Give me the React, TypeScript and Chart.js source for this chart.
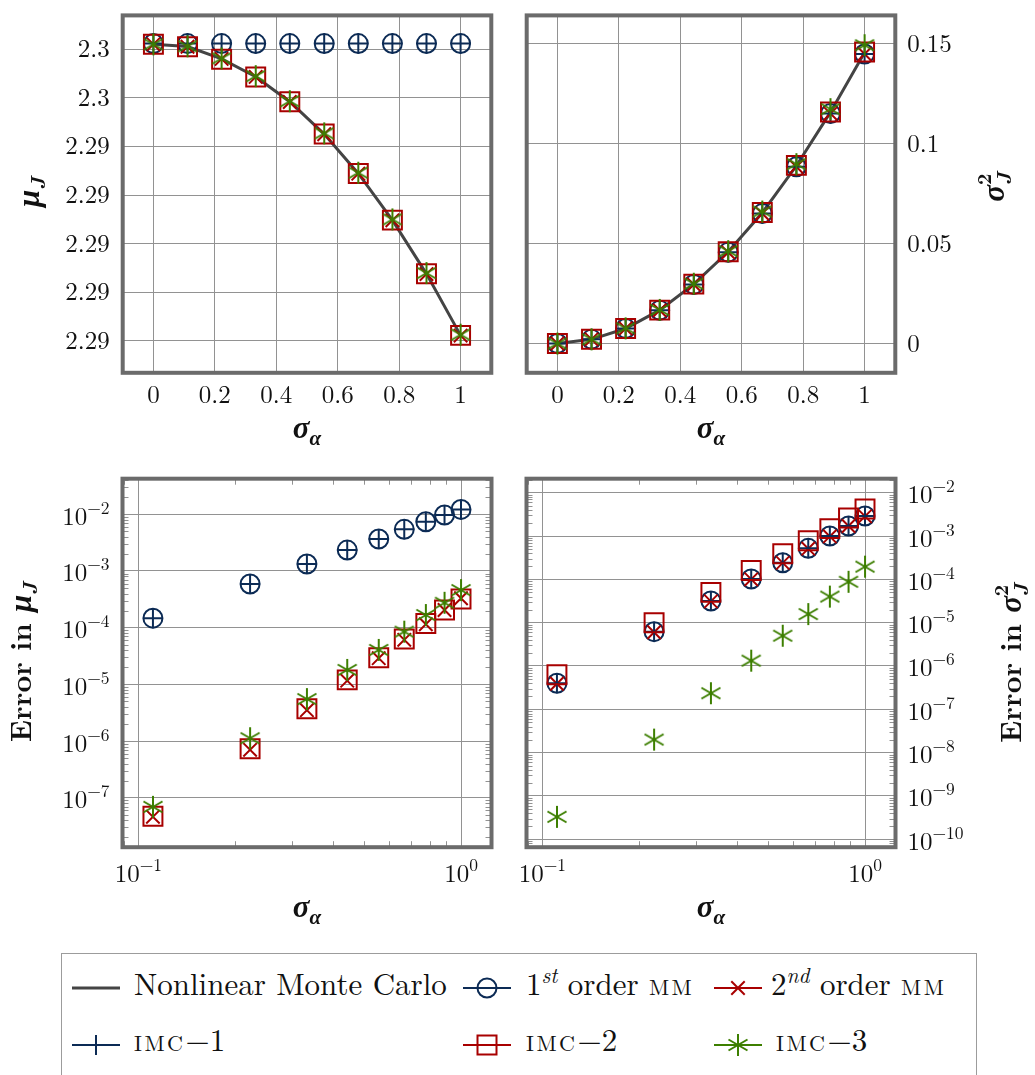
import React, { useEffect, useLayoutEffect, useRef, useState } from "react";
import { Chart, registerables } from "chart.js";

Chart.register(...registerables);

// ---------------- data ----------------
const sigmaAlpha = [0, 0.111, 0.222, 0.333, 0.444, 0.556, 0.667, 0.778, 0.889, 1];
const sigmaAlphaErr = [0.111, 0.222, 0.333, 0.444, 0.556, 0.667, 0.778, 0.889, 1];

const muNonlinearMC = [2.29564, 2.295622, 2.29552, 2.295374, 2.295168, 2.294902, 2.294578, 2.294194, 2.293752, 2.293246];
const muMM1 = [2.295646, 2.295646, 2.295646, 2.295646, 2.295646, 2.295646, 2.295646, 2.295646, 2.295646, 2.295646];
const muMM2 = [2.29564, 2.29562, 2.29552, 2.295372, 2.295166, 2.2949, 2.294576, 2.294192, 2.29375, 2.293244];
const muIMC1 = [2.295646, 2.295646, 2.295646, 2.295646, 2.295646, 2.295646, 2.295646, 2.295646, 2.295646, 2.295646];
const muIMC2 = [2.29564, 2.29562, 2.295518, 2.295372, 2.295168, 2.294902, 2.294578, 2.294194, 2.293752, 2.293246];
const muIMC3 = [2.29564, 2.295624, 2.295524, 2.295378, 2.295172, 2.294908, 2.294584, 2.2942, 2.293758, 2.293252];

const varNonlinearMC = [0, 0.0021, 0.0075, 0.0167, 0.0297, 0.0459, 0.0654, 0.0889, 0.1157, 0.1456];
const varMM1 = [0, 0.0021, 0.0075, 0.0166, 0.0295, 0.0456, 0.065, 0.0884, 0.115, 0.1448];
const varMM2 = [0, 0.0021, 0.0075, 0.0166, 0.0295, 0.0456, 0.065, 0.0884, 0.115, 0.1448];
const varIMC1 = [0, 0.0021, 0.0075, 0.0166, 0.0295, 0.0456, 0.065, 0.0884, 0.115, 0.1448];
const varIMC2 = [0, 0.0021, 0.0075, 0.0167, 0.0297, 0.0459, 0.0655, 0.0891, 0.1158, 0.1458];
const varIMC3 = [0, 0.0021, 0.0076, 0.0168, 0.0299, 0.0462, 0.066, 0.0897, 0.1172, 0.1492];

const errMuMM1 = [1.47e-4, 5.9e-4, 1.33e-3, 2.34e-3, 3.66e-3, 5.43e-3, 7.4e-3, 9.7e-3, 1.22e-2];
const errMuMM2 = [4.6e-8, 7.0e-7, 3.5e-6, 1.16e-5, 2.9e-5, 6.1e-5, 1.15e-4, 2.05e-4, 3.3e-4];
const errMuIMC1 = [1.47e-4, 5.9e-4, 1.33e-3, 2.34e-3, 3.66e-3, 5.43e-3, 7.4e-3, 9.7e-3, 1.22e-2];
const errMuIMC2 = [4.7e-8, 7.3e-7, 3.7e-6, 1.2e-5, 2.95e-5, 6.3e-5, 1.18e-4, 2.05e-4, 3.2e-4];
const errMuIMC3 = [6.9e-8, 1.12e-6, 5.5e-6, 1.8e-5, 4.05e-5, 8.5e-5, 1.67e-4, 2.75e-4, 4.6e-4];

const errVarMM1 = [4.0e-7, 6.2e-6, 3.16e-5, 1.02e-4, 2.42e-4, 5.2e-4, 1.0e-3, 1.7e-3, 2.9e-3];
const errVarMM2 = [3.9e-7, 6.0e-6, 3.1e-5, 1.0e-4, 2.4e-4, 5.1e-4, 9.8e-4, 1.7e-3, 2.85e-3];
const errVarIMC1 = [4.0e-7, 6.2e-6, 3.16e-5, 1.02e-4, 2.42e-4, 5.2e-4, 1.0e-3, 1.7e-3, 2.9e-3];
const errVarIMC2 = [6.3e-7, 1.0e-5, 5.0e-5, 1.6e-4, 3.9e-4, 7.8e-4, 1.48e-3, 2.6e-3, 4.2e-3];
const errVarIMC3 = [3.3e-10, 2.0e-8, 2.35e-7, 1.33e-6, 5.0e-6, 1.58e-5, 4.0e-5, 8.8e-5, 1.96e-4];

// ticks
const linXTickValues = [0, 0.2, 0.4, 0.6, 0.8, 1];
const linXTickLabels = ["0", "0.2", "0.4", "0.6", "0.8", "1"];
const muTickValues = [2.2956, 2.2952, 2.2948, 2.2944, 2.294, 2.2936, 2.2932];
const muTickLabels = ["2.3", "2.3", "2.29", "2.29", "2.29", "2.29", "2.29"];
const varTickValues = [0, 0.05, 0.1, 0.15];
const varTickLabels = ["0", "0.05", "0.1", "0.15"];
const logXTickExps = [-1, 0];
const errMuTickExps = [-7, -6, -5, -4, -3, -2];
const errVarTickExps = [-10, -9, -8, -7, -6, -5, -4, -3, -2];

// ---------------- styles ----------------
const W = 1035;
const H = 945;
const LM = '"Latin Modern Roman", "Liberation Serif", serif';
const GREEKF = '"Liberation Serif", serif';
const NAVY = "#0c2b55";
const RED = "#a80000";
const GREEN = "#3d7f00";
const DARK = "#444444";
const GRID = "#929292";
const FRAME = "#6b6b6b";

type Run = { t: string; font: string; dy?: number; adv?: number };

const tickFont = `25px ${LM}`;
const supFont = `17.5px ${LM}`;
const greek = (s: number) => `italic bold ${s}px ${GREEKF}`;
const lmbi = (s: number) => `italic bold ${s}px ${LM}`;
const lmb = (s: number) => `bold ${s}px ${LM}`;

const sigmaAlphaTitle: Run[] = [
  { t: "σ", font: greek(31) },
  { t: "α", font: greek(21), dy: 7 },
];
const muTitle: Run[] = [
  { t: "μ", font: greek(31) },
  { t: "J", font: lmbi(21), dy: 6 },
];
const varTitle: Run[] = [
  { t: "σ", font: greek(31) },
  { t: "2", font: lmb(20), dy: -13, adv: 0 },
  { t: "J", font: lmbi(21), dy: 7 },
];
const errMuTitle: Run[] = [{ t: "Error in ", font: lmb(29) }, ...muTitle];
const errVarTitle: Run[] = [{ t: "Error in ", font: lmb(29) }, ...varTitle];

function runsWidth(ctx: CanvasRenderingContext2D, runs: Run[]) {
  let w = 0;
  for (const r of runs) {
    ctx.font = r.font;
    w += r.adv !== undefined ? r.adv : ctx.measureText(r.t).width;
  }
  return w;
}

function drawRuns(ctx: CanvasRenderingContext2D, runs: Run[], x: number, y: number, align: "left" | "right" | "center") {
  const w = runsWidth(ctx, runs);
  let cx = align === "left" ? x : align === "right" ? x - w : x - w / 2;
  ctx.textAlign = "left";
  ctx.textBaseline = "alphabetic";
  for (const r of runs) {
    ctx.font = r.font;
    ctx.fillText(r.t, cx, y + (r.dy || 0));
    cx += r.adv !== undefined ? r.adv : ctx.measureText(r.t).width;
  }
}

function powLabel(e: number): Run[] {
  return [
    { t: "10", font: tickFont },
    { t: (e < 0 ? "−" : "") + Math.abs(e), font: supFont, dy: -11 },
  ];
}

type Area = { left: number; top: number; right: number; bottom: number };

type PanelSpec = {
  key: string;
  area: Area;
  log: boolean;
  xMin: number;
  xMax: number;
  yMin: number;
  yMax: number;
  xTicks: number[];
  yTicks: number[];
  xLabels: Run[][];
  yLabels: Run[][];
  ySide: "left" | "right";
  xTitle: Run[];
  yTitle: Run[];
  yTitleX: number;
  yTitleY: number;
  datasets: any[];
};

function line(ctx: CanvasRenderingContext2D, x0: number, y0: number, x1: number, y1: number) {
  ctx.beginPath();
  ctx.moveTo(x0, y0);
  ctx.lineTo(x1, y1);
  ctx.stroke();
}

function panelPlugin(spec: PanelSpec) {
  return {
    id: "pgf" + spec.key,
    beforeDatasetsDraw(chart: any) {
      if (!spec.log) return;
      const ctx: CanvasRenderingContext2D = chart.ctx;
      const a = chart.chartArea;
      const xs = chart.scales.x;
      const ys = chart.scales.y;
      ctx.save();
      ctx.strokeStyle = GRID;
      ctx.lineWidth = 1;
      const L = 6;
      for (let e = Math.floor(Math.log10(ys.min)); e <= Math.ceil(Math.log10(ys.max)); e++) {
        for (let m = 2; m <= 9; m++) {
          const v = m * Math.pow(10, e);
          if (v <= ys.min || v >= ys.max) continue;
          const py = Math.round(ys.getPixelForValue(v)) + 0.5;
          line(ctx, a.left, py, a.left + L, py);
          line(ctx, a.right - L, py, a.right, py);
        }
      }
      for (let e = Math.floor(Math.log10(xs.min)); e <= Math.ceil(Math.log10(xs.max)); e++) {
        for (let m = 2; m <= 9; m++) {
          const v = m * Math.pow(10, e);
          if (v <= xs.min || v >= xs.max) continue;
          const px = Math.round(xs.getPixelForValue(v)) + 0.5;
          line(ctx, px, a.top, px, a.top + L);
          line(ctx, px, a.bottom - L, px, a.bottom);
        }
      }
      ctx.restore();
    },
    afterDraw(chart: any) {
      const ctx: CanvasRenderingContext2D = chart.ctx;
      const a = chart.chartArea;
      const xs = chart.scales.x;
      const ys = chart.scales.y;
      ctx.save();
      ctx.strokeStyle = FRAME;
      ctx.lineWidth = 4;
      ctx.strokeRect(a.left, a.top, a.right - a.left, a.bottom - a.top);
      ctx.fillStyle = "#111";
      spec.xTicks.forEach((v, i) => {
        const px = xs.getPixelForValue(v);
        drawRuns(ctx, spec.xLabels[i], px, a.bottom + (spec.log ? 34.5 : 30.5), "center");
      });
      spec.yTicks.forEach((v, i) => {
        const py = ys.getPixelForValue(v);
        const off = spec.log ? 10.5 : 8;
        if (spec.ySide === "left") drawRuns(ctx, spec.yLabels[i], a.left - 13, py + off, "right");
        else drawRuns(ctx, spec.yLabels[i], a.right + 12, py + off, "left");
      });
      drawRuns(ctx, spec.xTitle, (a.left + a.right) / 2, a.bottom + (spec.log ? 70 : 65), "center");
      ctx.translate(spec.yTitleX, spec.yTitleY);
      ctx.rotate(-Math.PI / 2);
      drawRuns(ctx, spec.yTitle, 0, 0, "center");
      ctx.restore();
    },
  };
}

function markerSet(label: string, xs: number[], ys: number[], style: any, color: string, radius: number, order: number) {
  return {
    label,
    data: xs.map((x, i) => ({ x, y: ys[i] })),
    showLine: false,
    pointStyle: style,
    pointRadius: radius,
    pointHoverRadius: radius,
    pointBorderColor: color,
    pointBackgroundColor: "rgba(0,0,0,0)",
    pointBorderWidth: 2,
    borderColor: color,
    backgroundColor: color,
    order,
  };
}

function lineSet(label: string, xs: number[], ys: number[]) {
  return {
    label,
    data: xs.map((x, i) => ({ x, y: ys[i] })),
    showLine: true,
    borderColor: DARK,
    borderWidth: 3,
    pointRadius: 0,
    tension: 0,
    order: 5,
  };
}

function makeAsterisk(r: number, color: string, lw: number) {
  const s = 2 * Math.ceil(r + lw);
  const c = document.createElement("canvas");
  c.width = s;
  c.height = s;
  const g = c.getContext("2d")!;
  g.strokeStyle = color;
  g.lineWidth = lw;
  const cx = s / 2;
  const cy = s / 2;
  for (const deg of [90, 30, 150]) {
    const rad = (deg * Math.PI) / 180;
    const dx = Math.cos(rad) * r;
    const dy = Math.sin(rad) * r;
    g.beginPath();
    g.moveTo(cx - dx, cy - dy);
    g.lineTo(cx + dx, cy + dy);
    g.stroke();
  }
  return c;
}

function axis(type: string, min: number, max: number, ticks: number[]) {
  return {
    type,
    min,
    max,
    bounds: "data",
    position: "left",
    ticks: { display: false },
    grid: { color: GRID, lineWidth: 1, drawTicks: false },
    border: { display: false },
    afterBuildTicks: (s: any) => {
      s.ticks = ticks.map((v) => ({ value: v }));
    },
    afterFit: (s: any) => {
      if (s.isHorizontal()) s.height = 0;
      else s.width = 0;
    },
  };
}

function buildSpecs(star: HTMLCanvasElement): PanelSpec[] {
  const R = { circle: 9.5, cross: 10, crossRot: 9.5, rect: 13.4, star: 11 };
  const sets = (xs: number[], mm1: number[], mm2: number[], i1: number[], i2: number[], i3: number[]) => [
    markerSet("1st order MM", xs, mm1, "circle", NAVY, R.circle, 4),
    markerSet("2nd order MM", xs, mm2, "crossRot", RED, R.crossRot, 3),
    markerSet("IMC-1", xs, i1, "cross", NAVY, R.cross, 2),
    markerSet("IMC-2", xs, i2, "rect", RED, R.rect, 1),
    markerSet("IMC-3", xs, i3, star, GREEN, R.star, 0),
  ];
  const logXMin = 0.08933;
  const logXMax = 1.243;
  return [
    {
      key: "tl",
      area: { left: 122.7, top: 5.3, right: 491.3, bottom: 372.8 },
      log: false,
      xMin: -0.1,
      xMax: 1.1,
      yMin: 2.292938,
      yMax: 2.295878,
      xTicks: linXTickValues,
      yTicks: muTickValues,
      xLabels: linXTickLabels.map((t) => [{ t, font: tickFont }]),
      yLabels: muTickLabels.map((t) => [{ t, font: tickFont }]),
      ySide: "left",
      xTitle: sigmaAlphaTitle,
      yTitle: muTitle,
      yTitleX: 38.5,
      yTitleY: 192,
      datasets: [lineSet("Nonlinear Monte Carlo", sigmaAlpha, muNonlinearMC), ...sets(sigmaAlpha, muMM1, muMM2, muIMC1, muIMC2, muIMC3)],
    },
    {
      key: "tr",
      area: { left: 526.7, top: 5.3, right: 895.3, bottom: 372.8 },
      log: false,
      xMin: -0.1,
      xMax: 1.1,
      yMin: -0.01464,
      yMax: 0.1641,
      xTicks: linXTickValues,
      yTicks: varTickValues,
      xLabels: linXTickLabels.map((t) => [{ t, font: tickFont }]),
      yLabels: varTickLabels.map((t) => [{ t, font: tickFont }]),
      ySide: "right",
      xTitle: sigmaAlphaTitle,
      yTitle: varTitle,
      yTitleX: 1004,
      yTitleY: 187,
      datasets: [lineSet("Nonlinear Monte Carlo", sigmaAlpha, varNonlinearMC), ...sets(sigmaAlpha, varMM1, varMM2, varIMC1, varIMC2, varIMC3)],
    },
    {
      key: "bl",
      area: { left: 122.5, top: 478.7, right: 491.5, bottom: 847.2 },
      log: true,
      xMin: logXMin,
      xMax: logXMax,
      yMin: 1.34e-8,
      yMax: 0.04246,
      xTicks: logXTickExps.map((e) => Math.pow(10, e)),
      yTicks: errMuTickExps.map((e) => Math.pow(10, e)),
      xLabels: logXTickExps.map(powLabel),
      yLabels: errMuTickExps.map(powLabel),
      ySide: "left",
      xTitle: sigmaAlphaTitle,
      yTitle: errMuTitle,
      yTitleX: 31,
      yTitleY: 662,
      datasets: sets(sigmaAlphaErr, errMuMM1, errMuMM2, errMuIMC1, errMuIMC2, errMuIMC3),
    },
    {
      key: "br",
      area: { left: 526.5, top: 478.7, right: 895.5, bottom: 847.2 },
      log: true,
      xMin: logXMin,
      xMax: logXMax,
      yMin: 6.57e-11,
      yMax: 0.02104,
      xTicks: logXTickExps.map((e) => Math.pow(10, e)),
      yTicks: errVarTickExps.map((e) => Math.pow(10, e)),
      xLabels: logXTickExps.map(powLabel),
      yLabels: errVarTickExps.map(powLabel),
      ySide: "right",
      xTitle: sigmaAlphaTitle,
      yTitle: errVarTitle,
      yTitleX: 1021,
      yTitleY: 663,
      datasets: sets(sigmaAlphaErr, errVarMM1, errVarMM2, errVarIMC1, errVarIMC2, errVarIMC3),
    },
  ];
}

function makeChart(canvas: HTMLCanvasElement, spec: PanelSpec) {
  const a = spec.area;
  const type = spec.log ? "logarithmic" : "linear";
  return new Chart(canvas, {
    type: "line",
    data: { datasets: spec.datasets },
    options: {
      responsive: false,
      maintainAspectRatio: false,
      animation: false,
      devicePixelRatio: 1,
      events: [],
      layout: { padding: { left: a.left, top: a.top, right: W - a.right, bottom: H - a.bottom } },
      plugins: { legend: { display: false }, tooltip: { enabled: false } },
      scales: {
        x: axis(type, spec.xMin, spec.xMax, spec.xTicks),
        y: axis(type, spec.yMin, spec.yMax, spec.yTicks),
      },
    } as any,
    plugins: [panelPlugin(spec) as any],
  });
}

// ---------------- legend ----------------
type MarkerKind = "none" | "circle" | "crossRot" | "cross" | "rect" | "star";

function LegendMarker({ x, y, color, kind, width }: { x: number; y: number; color: string; kind: MarkerKind; width: number }) {
  const cx = 28;
  const cy = 15;
  const sw = 2;
  let mark: React.ReactNode = null;
  if (kind === "circle") mark = <circle cx={cx} cy={cy} r={9.5} fill="none" stroke={color} strokeWidth={sw} />;
  if (kind === "crossRot")
    mark = (
      <g stroke={color} strokeWidth={sw}>
        <line x1={cx - 6.7} y1={cy - 6.7} x2={cx + 6.7} y2={cy + 6.7} />
        <line x1={cx - 6.7} y1={cy + 6.7} x2={cx + 6.7} y2={cy - 6.7} />
      </g>
    );
  if (kind === "cross") mark = <line x1={cx} y1={cy - 10} x2={cx} y2={cy + 10} stroke={color} strokeWidth={sw} />;
  if (kind === "rect") mark = <rect x={cx - 9.5} y={cy - 9.5} width={19} height={19} fill="none" stroke={color} strokeWidth={sw} />;
  if (kind === "star")
    mark = (
      <g stroke={color} strokeWidth={sw}>
        <line x1={cx} y1={cy - 11} x2={cx} y2={cy + 11} />
        <line x1={cx - 9.5} y1={cy - 5.5} x2={cx + 9.5} y2={cy + 5.5} />
        <line x1={cx - 9.5} y1={cy + 5.5} x2={cx + 9.5} y2={cy - 5.5} />
      </g>
    );
  return (
    <svg width={56} height={30} style={{ position: "absolute", left: x - 4, top: y - 15 }}>
      <line x1={4} y1={cy} x2={52} y2={cy} stroke={color} strokeWidth={width} />
      {mark}
    </svg>
  );
}

const LEG_FS = 31;
const legendText: React.CSSProperties = {
  position: "absolute",
  fontFamily: LM,
  fontSize: LEG_FS,
  lineHeight: `${LEG_FS}px`,
  whiteSpace: "nowrap",
  color: "#111",
};
const sc: React.CSSProperties = { fontSize: 22, letterSpacing: "2.5px" };
const sup: React.CSSProperties = { fontSize: 21.5, fontStyle: "italic", position: "relative", top: -12 };

function Legend() {
  const [off, setOff] = useState(26);
  const probe = useRef<HTMLSpanElement>(null);
  const mark = useRef<HTMLSpanElement>(null);
  useLayoutEffect(() => {
    if (probe.current && mark.current) {
      const p = probe.current.getBoundingClientRect();
      const m = mark.current.getBoundingClientRect();
      setOff(m.top - p.top);
    }
  }, []);
  const r1 = 995 - off;
  const r2 = 1051 - off;
  return (
    <>
      <div
        style={{
          position: "absolute",
          left: 61,
          top: 953,
          width: 916,
          height: 140,
          border: "1.3px solid #9c9c9c",
          boxSizing: "border-box",
          background: "#fff",
        }}
      />
      <span ref={probe} style={{ ...legendText, left: 0, top: 0, visibility: "hidden" }}>
        Hg
        <span ref={mark} style={{ display: "inline-block", width: 0, height: 0 }} />
      </span>
      <LegendMarker x={72} y={988} color={DARK} kind="none" width={3} />
      <span style={{ ...legendText, left: 134, top: r1 }}>Nonlinear Monte Carlo</span>
      <LegendMarker x={463} y={988} color={NAVY} kind="circle" width={2} />
      <span style={{ ...legendText, left: 526, top: r1 }}>
        1<span style={sup}>st</span> order <span style={sc}>MM</span>
      </span>
      <LegendMarker x={714} y={988} color={RED} kind="crossRot" width={2} />
      <span style={{ ...legendText, left: 771, top: r1 }}>
        2<span style={sup}>nd</span> order <span style={sc}>MM</span>
      </span>
      <LegendMarker x={72} y={1045} color={NAVY} kind="cross" width={2} />
      <span style={{ ...legendText, left: 134, top: r2 }}>
        <span style={sc}>IMC</span>−1
      </span>
      <LegendMarker x={463} y={1045} color={RED} kind="rect" width={2} />
      <span style={{ ...legendText, left: 526, top: r2 }}>
        <span style={sc}>IMC</span>−2
      </span>
      <LegendMarker x={714} y={1045} color={GREEN} kind="star" width={2} />
      <span style={{ ...legendText, left: 776, top: r2 }}>
        <span style={sc}>IMC</span>−3
      </span>
    </>
  );
}

export default function App() {
  const refs = [useRef<HTMLCanvasElement>(null), useRef<HTMLCanvasElement>(null), useRef<HTMLCanvasElement>(null), useRef<HTMLCanvasElement>(null)];
  useEffect(() => {
    const star = makeAsterisk(11, GREEN, 2);
    const specs = buildSpecs(star);
    const charts = specs.map((s, i) => makeChart(refs[i].current!, s));
    return () => charts.forEach((c) => c.destroy());
  }, []);
  return (
    <div style={{ position: "absolute", left: 0, top: 0, width: W, height: 1075, background: "#fff", overflow: "hidden" }}>
      {refs.map((r, i) => (
        <canvas key={i} ref={r} width={W} height={H} style={{ position: "absolute", left: 0, top: 0, width: W, height: H }} />
      ))}
      <Legend />
    </div>
  );
}
